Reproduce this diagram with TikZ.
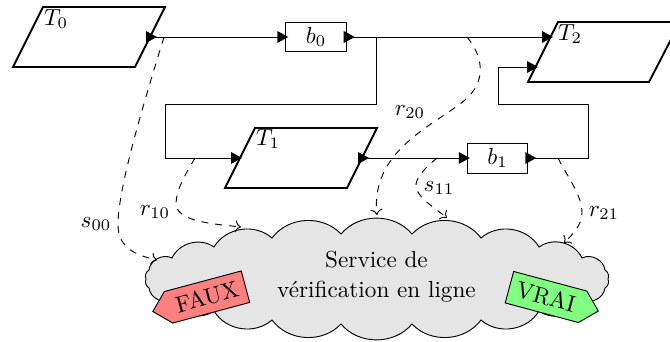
\documentclass[tikz,border=0pt]{standalone}
\usetikzlibrary{shapes.symbols,arrows.meta}
\tikzset{
 para/.style={draw=black,line width=0.8pt},
 boxn/.style={draw=black,line width=0.4pt,minimum width=26.1pt,minimum height=12.9pt,inner sep=0pt},
 link/.style={line width=0.4pt},
 tip/.style={fill=black,draw=none},
 dashlink/.style={line width=0.4pt,dashed,->},
 tagn/.style={draw=black,line width=0.4pt,shape=signal,signal from=nowhere},
 cloudline/.style={draw=black,fill=black!10,line width=0.4pt},
 puff/.style={bend left=#1},
 puff/.default=50,
}
\newcommand{\tipin}[1]{\fill[tip] (#1) ++(-8,-6) -- ++(11,6) -- ++(-11,6) -- cycle;}
\newcommand{\tipout}[1]{\fill[tip] (#1) ++(-3,-6) -- ++(11,6) -- ++(-11,6) -- cycle;}
\begin{document}
\begin{tikzpicture}[x=0.431pt,y=-0.431pt]
\useasboundingbox (0,0) rectangle (670,342);
% cloud
\draw[cloudline] (146,279)
 to[puff=40] (149,270) to[puff=55] (172,258) to[puff] (214,247) to[puff] (272,238) to[puff] (341,234)
 to[puff] (412,234) to[puff] (481,238) to[puff] (539,247) to[puff] (582,258)
 to[puff=55] (605,270) to[puff=40] (608,279)
 to[puff=40] (605,288) to[puff=55] (582,300) to[puff] (539,311) to[puff] (481,320) to[puff] (412,324)
 to[puff] (341,324) to[puff] (272,320) to[puff] (214,311) to[puff] (172,300)
 to[puff=55] (149,288) to[puff=40] cycle;
\node[align=center,inner sep=0pt] (svc) at (376.5,277) {Service de\\[0.9pt]vérification en ligne};

\draw[para] (43,7) -- (165,7) -- (135,67) -- (13,67) -- cycle;
\draw[para] (255,128) -- (377,128) -- (347,188) -- (225,188) -- cycle;
\draw[para] (558,22) -- (680,22) -- (649,82) -- (528,82) -- cycle;
\node (T0) at (56,19) {$T_0$};
\node (T1) at (268,139) {$T_1$};
\node (T2) at (570,34) {$T_2$};
\node[boxn] (b0) at (316,37) {$b_0$};
\node[boxn] (b1) at (497.5,158) {$b_1$};

\coordinate (t0o) at (149,37);
\coordinate (t1i) at (239,158);
\coordinate (t1o) at (361,158);
\coordinate (t2i) at (550,37);
\coordinate (t2j) at (535,67);
\draw[link] (t0o) -- (b0.west);
\draw[link] (b0.east) -- (t2i);
\draw[link] (b1.east) -- (588,158) -- (588,104) -- (498,104) -- (498,67) -- (t2j);
\draw[link] (t1o) -- (b1.west);
\draw[link] (b0.east -| 376,37) -- (376,104) -- (165,104) -- (165,158) -- (t1i);
\tipout{t0o}\tipin{t1i}\tipout{t1o}\tipin{t2i}\tipin{t2j}
\tipin{b0.west}\tipout{b0.east}\tipin{b1.west}\tipout{b1.east}

\coordinate (c00) at (157,260);
\coordinate (c10) at (241,227);
\coordinate (c20) at (377,215);
\coordinate (c11) at (447,218);
\coordinate (c21) at (564,243);
\draw[dashlink] (164,37) .. controls (140,115) and (118,190) .. (118,225) .. controls (118,250) and (140,256) .. (c00);
\draw[dashlink] (195,158) .. controls (185,175) and (176,190) .. (176,204) .. controls (177,222) and (215,224) .. (c10);
\draw[dashlink] (467,37) .. controls (482,55) and (488,80) .. (465,100) .. controls (435,125) and (370,150) .. (c20);
\draw[dashlink] (437,158) .. controls (425,168) and (415,178) .. (416,187) .. controls (418,198) and (435,208) .. (c11);
\draw[dashlink] (558,158) .. controls (568,178) and (582,195) .. (582,213) .. controls (582,225) and (572,235) .. (c21);

\node (s00) at (96,224) {$s_{00}$};
\node (r10) at (155,212) {$r_{10}$};
\node (r20) at (410,112) {$r_{20}$};
\node (s11) at (439,188) {$s_{11}$};
\node (r21) at (604,213) {$r_{21}$};

\node[tagn,signal to=west,fill=red!50,rotate=15] (faux) at (207,297) {FAUX};
\node[tagn,signal to=east,fill=green!50,rotate=-15] (vrai) at (546,297) {VRAI};
\end{tikzpicture}
\end{document}
